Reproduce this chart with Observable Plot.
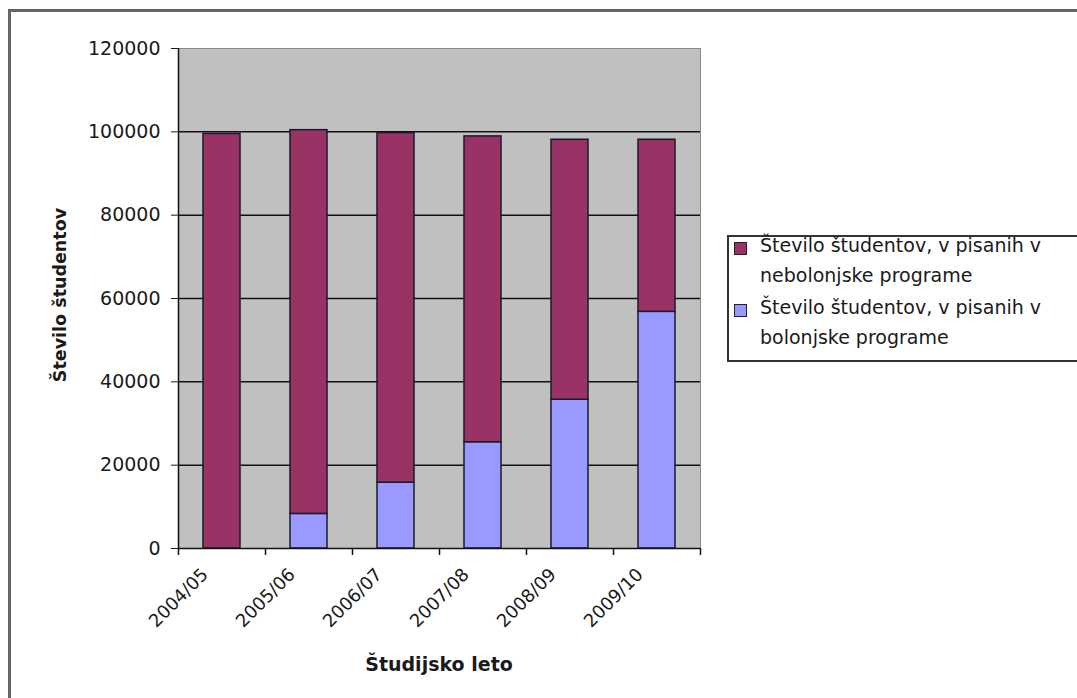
<!DOCTYPE html>
<html>
<head>
<meta charset="utf-8">
<script src="https://cdn.jsdelivr.net/npm/d3@7"></script>
<script src="https://cdn.jsdelivr.net/npm/@observablehq/plot@0.6"></script>
<style>
  html, body { margin: 0; padding: 0; background: #fff; }
  #wrap { position: relative; width: 1077px; height: 698px; overflow: hidden; font-family: "DejaVu Sans", Verdana, sans-serif; color: #1a1a1a; }
  #outer { position: absolute; left: 8px; top: 9px; width: 1090px; height: 720px; border-top: 3px solid #666; border-left: 3px solid #666; box-sizing: border-box; }
  #chart { position: absolute; left: 0; top: 0; }
  .title { position: absolute; font-weight: bold; white-space: nowrap; color: #1a1a1a; }
  #ytitle { left: 60px; top: 295px; font-size: 17.5px; transform: translate(-50%, -50%) rotate(-90deg); }
  #xtitle { left: 439px; top: 664px; font-size: 19px; transform: translate(-50%, -50%); }
  #legend { position: absolute; left: 727px; top: 235px; width: 360px; height: 127px; border: 2px solid #333; box-sizing: border-box; }
  .entry { position: absolute; left: 0; font-size: 19px; line-height: 30px; color: #1a1a1a; }
  .entry .sw { position: absolute; left: 5px; width: 13px; height: 13px; border: 1.5px solid #222; box-sizing: border-box; }
  .entry .tx { position: absolute; left: 31px; white-space: nowrap; }
</style>
</head>
<body>
<div id="wrap">
  <div id="outer"></div>
  <div id="chart"></div>
  <div id="ytitle" class="title"></div>
  <div id="xtitle" class="title"></div>
  <div id="legend"></div>
</div>
<script>
// ---- data ----
const years = ["2004/05", "2005/06", "2006/07", "2007/08", "2008/09", "2009/10"];
const bolonjske = [0, 8300, 15800, 25500, 35700, 56800];
const nebolonjske = [99500, 92100, 83900, 73400, 62400, 41300];
const seriesNames = [
  "Število študentov, v pisanih v nebolonjske programe",
  "Število študentov, v pisanih v bolonjske programe"
];
const seriesColors = ["#993366", "#9999ff"];
const legendLines = [
  ["Število študentov, v pisanih v", "nebolonjske programe"],
  ["Število študentov, v pisanih v", "bolonjske programe"]
];
const yTicks = [0, 20000, 40000, 60000, 80000, 100000, 120000];
const yTitle = "Število študentov";
const xTitle = "Študijsko leto";

// ---- table ----
const rows = [];
years.forEach((yr, i) => {
  rows.push({year: yr, series: seriesNames[1], value: bolonjske[i]});
  rows.push({year: yr, series: seriesNames[0], value: nebolonjske[i]});
});

const W = 1077, H = 698;
const mL = 178, mR = 377, mT = 48, mB = 150;
const step = (W - mL - mR) / years.length;

const chart = Plot.plot({
  width: W,
  height: H,
  marginLeft: mL,
  marginRight: mR,
  marginTop: mT,
  marginBottom: mB,
  style: {fontFamily: '"DejaVu Sans", Verdana, sans-serif', fontSize: "19px", color: "#1a1a1a", background: "transparent", overflow: "visible"},
  x: {domain: years, paddingInner: 0.58, paddingOuter: 0.29, align: 0.5, axis: null},
  y: {domain: [0, 120000], axis: null},
  color: {domain: seriesNames, range: seriesColors},
  marks: [
    Plot.frame({fill: "#c0c0c0", stroke: "#8a8a8a", strokeWidth: 1}),
    Plot.ruleY(yTicks.filter(d => d > 0 && d < 120000), {stroke: "#111", strokeWidth: 1.5}),
    Plot.barY(rows, {x: "year", y: "value", fill: "series", order: [seriesNames[1], seriesNames[0]], stroke: "#1a1a2a", strokeWidth: 1.5}),
    Plot.ruleY([0], {stroke: "#111", strokeWidth: 1.5}),
    // left axis line (at left boundary of first band)
    Plot.ruleX([years[0]], {x: d => d, dx: -step / 2, stroke: "#111", strokeWidth: 1.5, insetBottom: -7}),
    // category boundary ticks
    Plot.ruleX(years.slice(1), {x: d => d, y1: 0, y2: 0, dx: -step / 2, stroke: "#111", strokeWidth: 1.5, insetBottom: -7}),
    Plot.ruleX([years[years.length - 1]], {x: d => d, y1: 0, y2: 0, dx: step / 2, stroke: "#111", strokeWidth: 1.5, insetBottom: -7}),
    Plot.axisY({ticks: yTicks, tickSize: 7, tickPadding: 11, tickFormat: d3.format("d"), label: null, fontSize: 19}),
    Plot.text(years, {x: d => d, frameAnchor: "bottom", rotate: -45, textAnchor: "end", lineAnchor: "middle", dx: -17, dy: 23, fontSize: 18, fill: "#1a1a1a"})
  ]
});
document.getElementById("chart").appendChild(chart);
document.getElementById("ytitle").textContent = yTitle;
document.getElementById("xtitle").textContent = xTitle;

// ---- legend ----
const legend = document.getElementById("legend");
const entryTops = [-7, 55];
legendLines.forEach((lines, i) => {
  const e = document.createElement("div");
  e.className = "entry";
  e.style.top = entryTops[i] + "px";
  const sw = document.createElement("div");
  sw.className = "sw";
  sw.style.top = "12px";
  sw.style.background = seriesColors[i];
  const tx = document.createElement("div");
  tx.className = "tx";
  tx.innerHTML = lines.join("<br>");
  e.appendChild(sw);
  e.appendChild(tx);
  legend.appendChild(e);
});
</script>
</body>
</html>
